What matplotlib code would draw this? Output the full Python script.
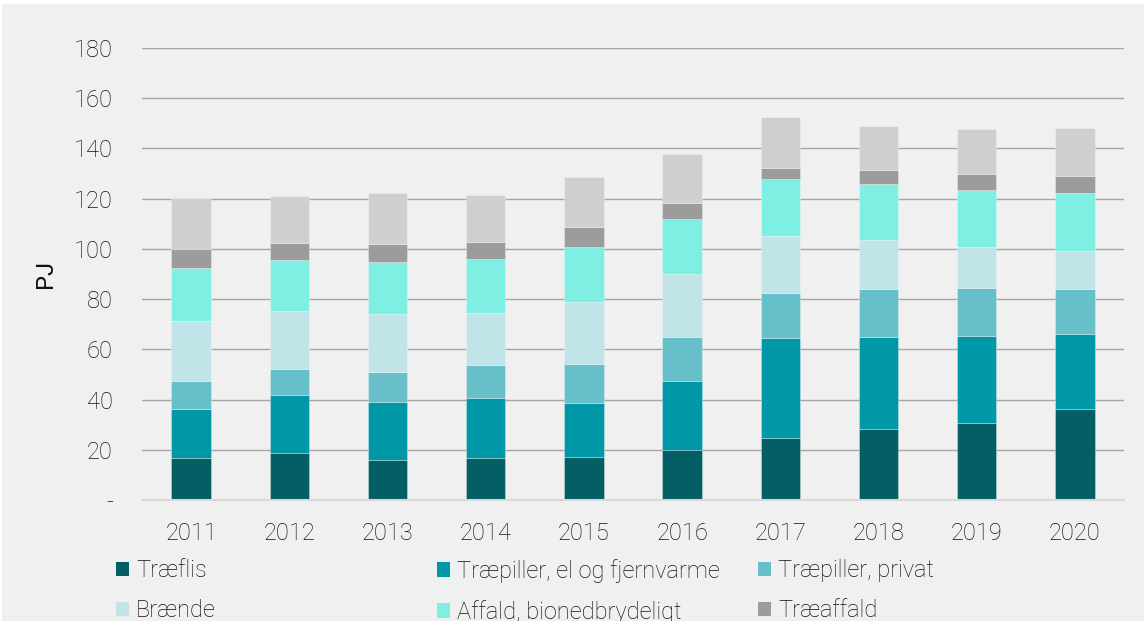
import numpy as np
import matplotlib.pyplot as plt
from matplotlib.patches import Rectangle, Patch

# =============================
# DATA (PJ)
# =============================

years = ["2011", "2012", "2013", "2014", "2015", "2016", "2017", "2018", "2019", "2020"]

traeflis = [16.9, 18.6, 16.1, 16.9, 17.3, 20.0, 24.8, 28.4, 30.5, 36.4]
traepiller_el = [19.5, 23.2, 22.9, 23.6, 21.5, 27.3, 39.8, 36.6, 34.9, 29.7]
traepiller_privat = [11.0, 10.4, 12.0, 13.1, 15.4, 17.5, 18.0, 19.0, 19.0, 17.9]
braende = [23.9, 22.9, 23.1, 21.0, 24.7, 25.2, 22.5, 19.5, 16.4, 15.2]
affald = [21.0, 20.5, 20.6, 21.4, 21.8, 21.9, 22.7, 22.2, 22.8, 23.1]
traeaffald = [7.7, 6.8, 7.1, 6.7, 8.0, 6.2, 4.4, 5.7, 6.2, 6.9]
oevrige = [20.3, 18.5, 20.5, 18.8, 19.9, 19.8, 20.5, 17.7, 18.1, 19.0]  # top segment, label cut off in source

labels = ["Træflis", "Træpiller, el og fjernvarme", "Træpiller, privat",
          "Brænde", "Affald, bionedbrydeligt", "Træaffald"]
colors = ["#045e66", "#0097a7", "#67c0c9", "#c0e4e8", "#80efe3", "#9c9c9c", "#d0cfcf"]

yticks = [0, 20, 40, 60, 80, 100, 120, 140, 160, 180]
ytick_labels = ["-", "20", "40", "60", "80", "100", "120", "140", "160", "180"]

# =============================
# STYLE
# =============================

plt.rcParams["font.family"] = ["Roboto", "DejaVu Sans"]
plt.rcParams["font.weight"] = "light"
TEXT = "#111111"
BG = "#f0f0f0"

fig = plt.figure(figsize=(11.44, 6.21), dpi=100, facecolor="white")
# grey panel (thin white margin top/left like the source crop)
fig.patches.append(Rectangle((2 / 1144, 0), 1, 1 - 4 / 621, transform=fig.transFigure,
                             facecolor=BG, edgecolor="none", zorder=-10))

ax = fig.add_axes([142 / 1144, 1 - 500 / 621, 982 / 1144, 452 / 621])
ax.set_facecolor(BG)

# =============================
# BARS
# =============================

series = [traeflis, traepiller_el, traepiller_privat, braende, affald, traeaffald, oevrige]
x = np.arange(len(years))
bottom = np.zeros(len(years))
for vals, col in zip(series, colors):
    vals = np.array(vals)
    ax.bar(x, vals, width=0.4, bottom=bottom, color=col,
           edgecolor=(1, 1, 1, 0.35), linewidth=0.6, zorder=3)
    bottom += vals

# =============================
# AXES
# =============================

ax.set_xlim(-0.5, len(years) - 0.5)
ax.set_ylim(0, 180)
ax.set_yticks(yticks)
ax.set_yticklabels(ytick_labels)
ax.set_xticks(x)
ax.set_xticklabels(years)
ax.tick_params(axis="y", length=0, pad=21, labelsize=17, labelcolor=TEXT)
ax.tick_params(axis="x", length=0, pad=16, labelsize=17, labelcolor=TEXT)

ax.grid(axis="y", color="#a6a6a6", linewidth=1.0, zorder=0)
ax.set_axisbelow(True)
for s in ["top", "right", "left"]:
    ax.spines[s].set_visible(False)
ax.spines["bottom"].set_color("#d9d9d9")
ax.spines["bottom"].set_linewidth(1.5)
ax.spines["bottom"].set_zorder(4)

ax.set_ylabel("PJ", fontsize=17, color=TEXT)
ax.yaxis.set_label_coords(-0.087, 0.5)

# =============================
# LEGEND (row-wise, 3 columns)
# =============================

handles = [Patch(facecolor=c, edgecolor="none") for c in colors[:6]]
col_x = [116, 437, 758]
for ci in range(3):
    hs = [handles[ci], handles[ci + 3]]
    ls = [labels[ci], labels[ci + 3]]
    leg = fig.legend(hs, ls, loc="upper left",
                     bbox_to_anchor=(col_x[ci] / 1144, 1 - 559 / 621),
                     frameon=False, fontsize=17, handlelength=0.55, handleheight=0.55,
                     handletextpad=0.3, labelspacing=0.72, borderpad=0, borderaxespad=0)
    for t in leg.get_texts():
        t.set_color(TEXT)

fig.savefig("out.png", dpi=100, facecolor=fig.get_facecolor())
